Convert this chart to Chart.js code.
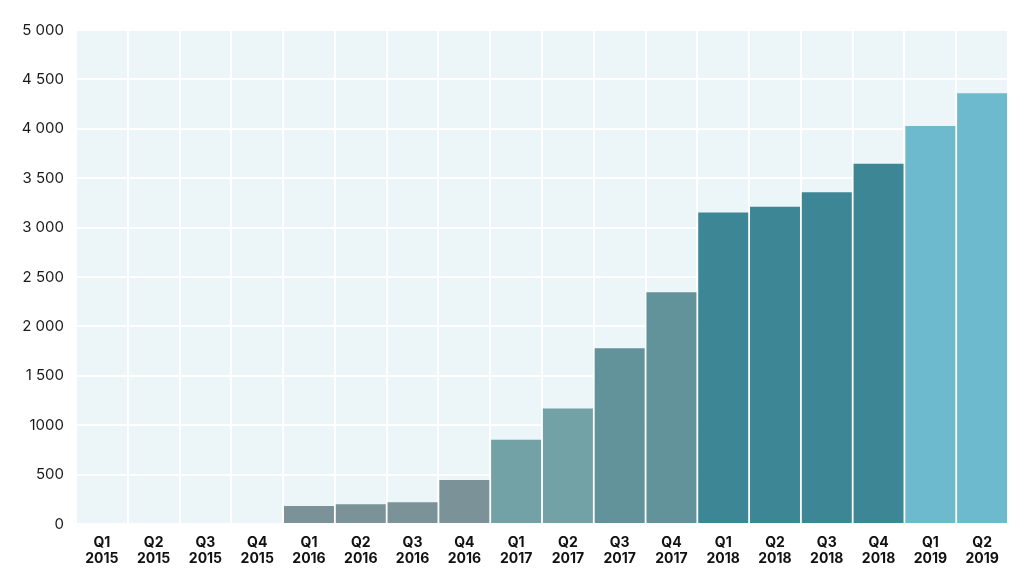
<!DOCTYPE html>
<html>
<head>
<meta charset="utf-8">
<script src="https://cdn.jsdelivr.net/npm/chart.js@4"></script>
<style>
  html, body { margin: 0; padding: 0; background: #fff; }
  #wrap { width: 1024px; height: 580px; }
</style>
</head>
<body>
<div id="wrap"><canvas id="myChart"></canvas></div>
<script>
const quarters = ["Q1", "Q2", "Q3", "Q4", "Q1", "Q2", "Q3", "Q4", "Q1", "Q2", "Q3", "Q4", "Q1", "Q2", "Q3", "Q4", "Q1", "Q2"];
const years = ["2015", "2015", "2015", "2015", "2016", "2016", "2016", "2016", "2017", "2017", "2017", "2017", "2018", "2018", "2018", "2018", "2019", "2019"];
const values = [0, 0, 0, 0, 182, 200, 220, 445, 852, 1170, 1780, 2345, 3152, 3212, 3357, 3647, 4028, 4359];
const tick_values = [0, 500, 1000, 1500, 2000, 2500, 3000, 3500, 4000, 4500, 5000];
const tick_labels = ["0", "500", "1000", "1 500", "2 000", "2 500", "3 000", "3 500", "4 000", "4 500", "5 000"];

// one colour per year group
const bar_colors = [
  "#7b9398", "#7b9398", "#7b9398", "#7b9398",
  "#7b9398", "#7b9398", "#7b9398", "#7b9398",
  "#72a1a6", "#72a1a6", "#62939a", "#62939a",
  "#3c8696", "#3c8696", "#3c8696", "#3c8696",
  "#6dbace", "#6dbace"
];

const labels = quarters.map((q, i) => [q, years[i]]);

// light blue background behind the plot area
const plotBg = {
  id: "plotBg",
  beforeDraw(chart) {
    const { ctx, chartArea: a } = chart;
    ctx.save();
    ctx.fillStyle = "#ecf5f8";
    ctx.fillRect(a.left, a.top, a.right - a.left, a.bottom - a.top);
    ctx.restore();
  },
};

const config = {
  type: "bar",
  data: {
    labels: labels,
    datasets: [
      {
        label: "Valeur",
        data: values,
        backgroundColor: bar_colors,
        barPercentage: 0.965,
        categoryPercentage: 1,
      },
    ],
  },
  options: {
    responsive: false,
    animation: false,
    layout: { padding: { top: 30, right: 16, left: 0, bottom: 0 } },
    plugins: {
      legend: { display: false },
      tooltip: { enabled: false },
    },
    scales: {
      x: {
        offset: true,
        grid: { offset: true, color: "#ffffff", lineWidth: 2, drawTicks: false },
        border: { display: false },
        ticks: {
          color: "#111111",
          font: { family: "Inter", size: 14, weight: "bold", lineHeight: 1.15 },
          padding: 11,
          maxRotation: 0,
          autoSkip: false,
        },
        afterFit(scale) { scale.height = 56; },
      },
      y: {
        min: 0,
        max: 5000,
        grid: { color: "#ffffff", lineWidth: 2, drawTicks: false },
        border: { display: false },
        afterBuildTicks(scale) { scale.ticks = tick_values.map((v) => ({ value: v })); },
        ticks: {
          color: "#1a1a1a",
          font: { family: "Inter", size: 15 },
          padding: 12,
          callback: (v) => tick_labels[tick_values.indexOf(v)],
        },
        afterFit(scale) { scale.width = 76; },
      },
    },
  },
  plugins: [plotBg],
};

const canvas = document.getElementById("myChart");
canvas.width = 1024;
canvas.height = 580;
var myChart = new Chart(canvas, config);
</script>
</body>
</html>
